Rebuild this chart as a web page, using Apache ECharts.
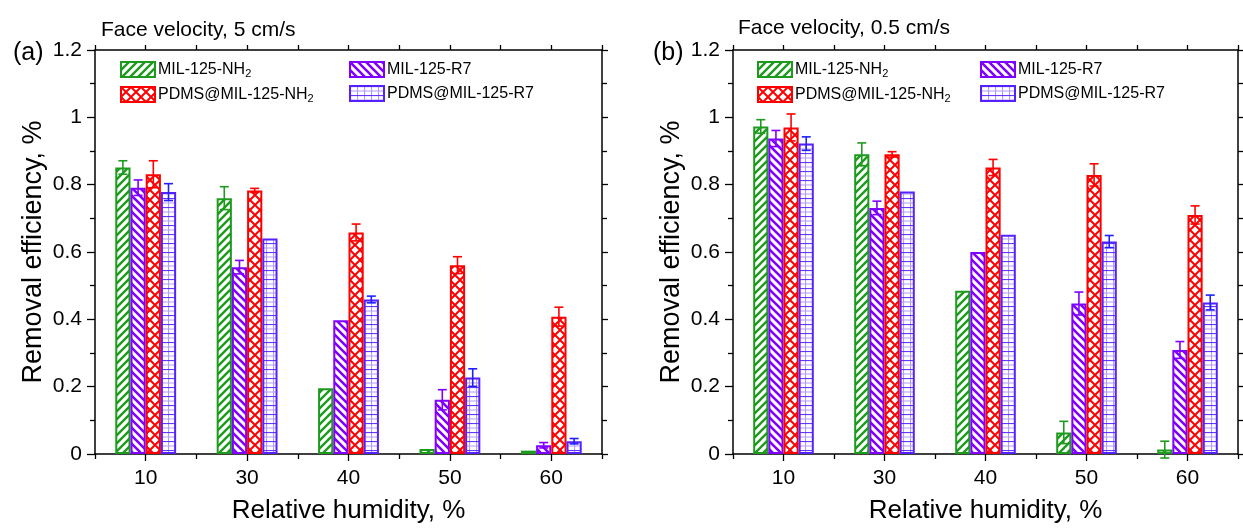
<!DOCTYPE html>
<html>
<head>
<meta charset="utf-8">
<script src="https://cdn.jsdelivr.net/npm/echarts@6/dist/echarts.min.js"></script>
<style>html,body{margin:0;padding:0;background:#fff;}#chart{width:1243px;height:529px;}</style>
</head>
<body>
<div id="chart"></div>
<script>
// ---- data ----
const categories = ['10', '30', '40', '50', '60'];
const seriesNames = ['MIL-125-NH2', 'MIL-125-R7', 'PDMS@MIL-125-NH2', 'PDMS@MIL-125-R7'];
const yTicks = [0, 0.2, 0.4, 0.6, 0.8, 1, 1.2];

// (a) face velocity 5 cm/s
const aNH2 = [0.851, 0.760, 0.195, 0.015, 0.010];
const aNH2Err = [0.020, 0.034, null, null, null];
const aR7 = [0.791, 0.555, 0.397, 0.161, 0.026];
const aR7Err = [0.023, 0.020, null, 0.030, 0.008];
const aPNH2 = [0.831, 0.783, 0.658, 0.561, 0.408];
const aPNH2Err = [0.040, 0.006, 0.025, 0.025, 0.028];
const aPR7 = [0.778, 0.640, 0.459, 0.227, 0.038];
const aPR7Err = [0.025, null, 0.010, 0.026, 0.008];

// (b) face velocity 0.5 cm/s
const bNH2 = [0.973, 0.890, 0.485, 0.064, 0.013];
const bNH2Err = [0.020, 0.034, null, 0.033, 0.025];
const bR7 = [0.937, 0.731, 0.600, 0.447, 0.309];
const bR7Err = [0.024, 0.020, null, 0.034, 0.025];
const bPNH2 = [0.970, 0.890, 0.851, 0.829, 0.710];
const bPNH2Err = [0.040, 0.008, 0.024, 0.033, 0.027];
const bPR7 = [0.922, 0.780, 0.651, 0.631, 0.450];
const bPR7Err = [0.020, null, null, 0.018, 0.022];

// ---- styles ----
const FONT = '"Liberation Sans", Arial, sans-serif';
const COLORS = ['#1e9b1e', '#8000ff', '#ff0000', '#5522ff'];
const ERR_COLORS = ['#1e9b1e', '#8000ff', '#ff0000', '#1f1fff'];

function makePattern(kind, color) {
  const c = document.createElement('canvas');
  let w = 8, h = 8;
  if (kind === 'cross') { w = 10; h = 10; }
  if (kind === 'grid') { w = 7; h = 9; }
  c.width = w; c.height = h;
  const g = c.getContext('2d');
  g.fillStyle = '#ffffff';
  g.fillRect(0, 0, w, h);
  g.strokeStyle = color;
  if (kind === 'fwd') {
    g.lineWidth = 2.4;
    g.beginPath();
    g.moveTo(-1, h + 1); g.lineTo(w + 1, -1);
    g.moveTo(-1, 1); g.lineTo(1, -1);
    g.moveTo(w - 1, h + 1); g.lineTo(w + 1, h - 1);
    g.stroke();
  } else if (kind === 'back') {
    g.lineWidth = 2.6;
    g.beginPath();
    g.moveTo(-1, -1); g.lineTo(w + 1, h + 1);
    g.moveTo(w - 1, -1); g.lineTo(w + 1, 1);
    g.moveTo(-1, h - 1); g.lineTo(1, h + 1);
    g.stroke();
  } else if (kind === 'cross') {
    g.lineWidth = 2;
    g.beginPath();
    g.moveTo(0, 0); g.lineTo(w, h);
    g.moveTo(w, 0); g.lineTo(0, h);
    g.stroke();
  } else if (kind === 'grid') {
    g.lineWidth = 1.2;
    g.globalAlpha = 0.9;
    g.beginPath();
    g.moveTo(0, 0.5); g.lineTo(w, 0.5);
    g.stroke();
    g.globalAlpha = 0.45;
    g.beginPath();
    g.moveTo(0.5, 0); g.lineTo(0.5, h);
    g.moveTo(0, 5); g.lineTo(w, 5);
    g.stroke();
  }
  return { image: c, repeat: 'repeat' };
}
const PATTERN_KINDS = ['fwd', 'back', 'cross', 'grid'];
const patterns = COLORS.map((col, i) => makePattern(PATTERN_KINDS[i], col));

function fmtY(v) {
  return String(Math.round(v * 10) / 10);
}

function errRenderer(offsetIdx, color) {
  return function (params, api) {
    const i = api.value(0), v = api.value(1), e = api.value(2);
    const band = api.size([1, 0])[0];
    const bw = band * 0.6 / 4;
    const cx = api.coord([i, v])[0] + (offsetIdx - 1.5) * bw;
    const yt = api.coord([i, v + e])[1];
    const yb = api.coord([i, v - e])[1];
    const cap = 4.5;
    const st = { stroke: color, lineWidth: 1.6 };
    return {
      type: 'group',
      children: [
        { type: 'line', shape: { x1: cx, y1: yt, x2: cx, y2: yb }, style: st },
        { type: 'line', shape: { x1: cx - cap, y1: yt, x2: cx + cap, y2: yt }, style: st },
        { type: 'line', shape: { x1: cx - cap, y1: yb, x2: cx + cap, y2: yb }, style: st }
      ]
    };
  };
}

const panels = [
  { vals: [aNH2, aR7, aPNH2, aPR7], errs: [aNH2Err, aR7Err, aPNH2Err, aPR7Err] },
  { vals: [bNH2, bR7, bPNH2, bPR7], errs: [bNH2Err, bR7Err, bPNH2Err, bPR7Err] }
];

const grids = [
  { left: 95, top: 50, width: 507, height: 409 },
  { left: 733, top: 50, width: 505, height: 408 }
];

const xAxes = [], yAxes = [], series = [];
const axisLine = { show: true, lineStyle: { color: '#000', width: 1.5 } };

grids.forEach((gr, gi) => {
  const base = xAxes.length;
  xAxes.push({
    type: 'category', gridIndex: gi, position: 'bottom', data: categories,
    axisLine: axisLine,
    axisTick: { show: true, length: 5, lineStyle: { color: '#000', width: 1.3 } },
    axisLabel: { fontSize: 21, color: '#000', fontFamily: FONT, margin: 14 },
    name: 'Relative humidity, %', nameLocation: 'middle', nameGap: 44,
    nameTextStyle: { fontSize: 26, color: '#000', fontFamily: FONT },
    splitLine: { show: false }
  });
  xAxes.push({
    type: 'category', gridIndex: gi, position: 'bottom', data: categories,
    axisLine: { show: false },
    axisTick: { show: true, alignWithLabel: true, length: 7, lineStyle: { color: '#000', width: 1.3 } },
    axisLabel: { show: false }, splitLine: { show: false }
  });
  xAxes.push({
    type: 'category', gridIndex: gi, position: 'top', data: categories,
    axisLine: axisLine,
    axisTick: { show: true, length: 5, lineStyle: { color: '#000', width: 1.3 } },
    axisLabel: { show: false }, splitLine: { show: false }
  });
  xAxes.push({
    type: 'category', gridIndex: gi, position: 'top', data: categories,
    axisLine: { show: false },
    axisTick: { show: true, alignWithLabel: true, length: 5, lineStyle: { color: '#000', width: 1.3 } },
    axisLabel: { show: false }, splitLine: { show: false }
  });
  const yBase = yAxes.length;
  yAxes.push({
    type: 'value', gridIndex: gi, position: 'left', min: 0, max: 1.2, interval: 0.2,
    axisLine: axisLine,
    axisTick: { show: true, length: 8, lineStyle: { color: '#000', width: 1.3 } },
    minorTick: { show: true, splitNumber: 2, length: 5, lineStyle: { color: '#000', width: 1.3 } },
    axisLabel: { fontSize: 21, color: '#000', fontFamily: FONT, margin: 13, formatter: fmtY },
    splitLine: { show: false }, minorSplitLine: { show: false },
    name: 'Removal efficiency, %', nameLocation: 'middle', nameGap: 48,
    nameTextStyle: { fontSize: 27, color: '#000', fontFamily: FONT }
  });
  yAxes.push({
    type: 'value', gridIndex: gi, position: 'right', min: 0, max: 1.2, interval: 0.2,
    axisLine: axisLine,
    axisTick: { show: true, length: 6, lineStyle: { color: '#000', width: 1.3 } },
    minorTick: { show: true, splitNumber: 2, length: 5, lineStyle: { color: '#000', width: 1.3 } },
    axisLabel: { show: false }, splitLine: { show: false }, minorSplitLine: { show: false }
  });

  const p = panels[gi];
  seriesNames.forEach((nm, si) => {
    series.push({
      type: 'bar', name: nm, xAxisIndex: base, yAxisIndex: yBase,
      data: p.vals[si], barGap: '0%', barCategoryGap: '40%',
      itemStyle: { color: patterns[si], borderColor: COLORS[si], borderWidth: 2 },
      emphasis: { disabled: true }, animation: false, z: 2
    });
  });
  seriesNames.forEach((nm, si) => {
    const d = [];
    p.vals[si].forEach((v, i) => { if (p.errs[si][i] != null) d.push([i, v, p.errs[si][i]]); });
    series.push({
      type: 'custom', name: nm + ' err', xAxisIndex: base, yAxisIndex: yBase,
      data: d, encode: { x: 0, y: 1 }, renderItem: errRenderer(si, ERR_COLORS[si]),
      z: 5, animation: false, silent: true
    });
  });
});

function legendFor(left, names) {
  return {
    left: left, top: 56, orient: 'vertical', itemGap: 7, itemWidth: 34, itemHeight: 15,
    selectedMode: false, icon: 'rect',
    data: names.map(n => {
      const si = seriesNames.indexOf(n);
      return { name: n, itemStyle: { color: patterns[si], borderColor: COLORS[si], borderWidth: 2 } };
    }),
    formatter: n => n.replace('NH2', 'NH{sub|2}'),
    textStyle: {
      fontSize: 16, color: '#000', fontFamily: FONT, padding: [0, 0, 0, -2],
      rich: { sub: { fontSize: 11, color: '#000', fontFamily: FONT, verticalAlign: 'bottom', padding: [8, 0, 0, 0] } }
    }
  };
}

const option = {
  backgroundColor: '#ffffff',
  animation: false,
  title: [
    { text: 'Face velocity, 5 cm/s', left: 96, top: 15, textStyle: { fontSize: 21, fontWeight: 'normal', color: '#000', fontFamily: FONT } },
    { text: '(a)', left: 8, top: 36, textStyle: { fontSize: 25, fontWeight: 'normal', color: '#000', fontFamily: FONT } },
    { text: 'Face velocity, 0.5 cm/s', left: 733, top: 13, textStyle: { fontSize: 21, fontWeight: 'normal', color: '#000', fontFamily: FONT } },
    { text: '(b)', left: 648, top: 36, textStyle: { fontSize: 25, fontWeight: 'normal', color: '#000', fontFamily: FONT } }
  ],
  legend: [
    legendFor(115, ['MIL-125-NH2', 'PDMS@MIL-125-NH2']),
    legendFor(344, ['MIL-125-R7', 'PDMS@MIL-125-R7']),
    legendFor(752, ['MIL-125-NH2', 'PDMS@MIL-125-NH2']),
    legendFor(975, ['MIL-125-R7', 'PDMS@MIL-125-R7'])
  ],
  grid: grids,
  xAxis: xAxes,
  yAxis: yAxes,
  series: series
};

const chart = echarts.init(document.getElementById('chart'), null, { renderer: 'canvas' });
chart.setOption(option);
</script>
</body>
</html>
